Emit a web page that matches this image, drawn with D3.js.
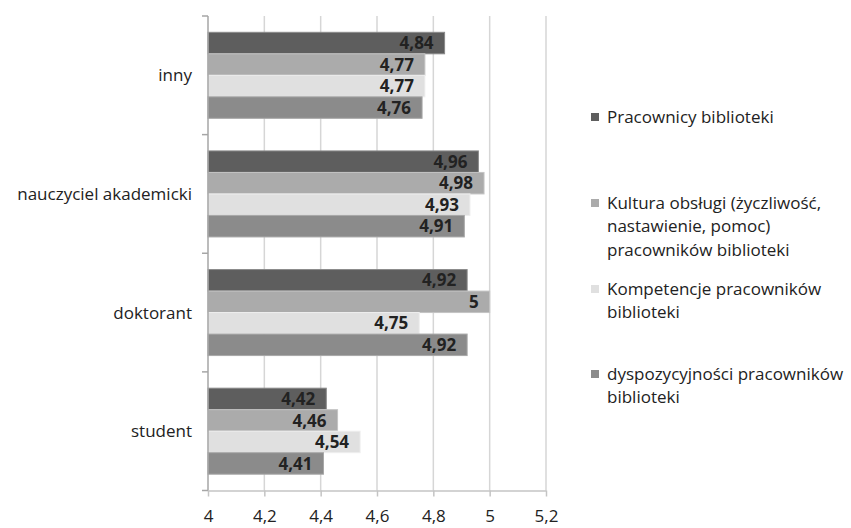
<!DOCTYPE html>
<html>
<head>
<meta charset="utf-8">
<script src="https://cdn.jsdelivr.net/npm/d3@7"></script>
<style>
  html, body { margin: 0; padding: 0; background: #fff; }
  svg { display: block; font-family: "Open Sans", sans-serif; }
</style>
</head>
<body>
<svg id="chart" width="851" height="528"></svg>
<script>
// ---- data ----
const categories = ["inny", "nauczyciel akademicki", "doktorant", "student"];
const seriesNames = [
  "Pracownicy biblioteki",
  "Kultura obsługi (życzliwość, nastawienie, pomoc) pracowników biblioteki",
  "Kompetencje pracowników biblioteki",
  "dyspozycyjności pracowników biblioteki"
];
const legendLines = [
  ["Pracownicy biblioteki"],
  ["Kultura obsługi (życzliwość,", "nastawienie, pomoc)", "pracowników biblioteki"],
  ["Kompetencje pracowników", "biblioteki"],
  ["dyspozycyjności pracowników", "biblioteki"]
];
const pracownicy    = [4.84, 4.96, 4.92, 4.42];
const kultura       = [4.77, 4.98, 5.00, 4.46];
const kompetencje   = [4.77, 4.93, 4.75, 4.54];
const dyspozycyjnosc= [4.76, 4.91, 4.92, 4.41];
const seriesValues = [pracownicy, kultura, kompetencje, dyspozycyjnosc];
const xTicks = [4, 4.2, 4.4, 4.6, 4.8, 5, 5.2];

// ---- styles ----
const colors = ["#5e5e5e", "#ababab", "#e0e0e0", "#8b8b8b"];
const strokes = ["#8a8a8a", "#c4c4c4", "#eeeeee", "#a8a8a8"];

const svg = d3.select("#chart");
const x = d3.scaleLinear().domain([4, 5.2]).range([208, 546]);
const y = d3.scaleBand().domain(categories).range([16, 490.5]).padding(0);
const ys = d3.scaleBand().domain(d3.range(seriesNames.length))
  .range([0, y.bandwidth()]).paddingInner(0).paddingOuter(0.758);

// gridlines
svg.append("g").selectAll("line").data(xTicks.slice(1)).join("line")
  .attr("x1", d => x(d)).attr("x2", d => x(d))
  .attr("y1", 16).attr("y2", 490.5)
  .attr("stroke", "#d6d6d6").attr("stroke-width", 1.5);

// bars
const rows = [];
categories.forEach((c, ci) => seriesValues.forEach((vals, si) => rows.push({c, si, v: vals[ci]})));
svg.append("g").selectAll("rect").data(rows).join("rect")
  .attr("x", x(4))
  .attr("y", d => y(d.c) + ys(d.si))
  .attr("width", d => x(d.v) - x(4))
  .attr("height", ys.bandwidth())
  .attr("fill", d => colors[d.si])
  .attr("stroke", d => strokes[d.si])
  .attr("stroke-width", 1);

// value labels
svg.append("g").selectAll("text").data(rows).join("text")
  .attr("x", d => x(d.v) - 11)
  .attr("y", d => y(d.c) + ys(d.si) + ys.bandwidth() / 2)
  .attr("dy", "0.36em")
  .attr("text-anchor", "end")
  .attr("font-size", 17)
  .attr("font-weight", "bold")
  .attr("fill", "#222")
  .text(d => String(d.v).replace(".", ","));

// x axis
const xAxis = d3.axisBottom(x).tickValues(xTicks)
  .tickFormat(d => String(d).replace(".", ","))
  .tickSizeInner(6).tickSizeOuter(0).tickPadding(13);
const gx = svg.append("g").attr("transform", "translate(0,490.5)").call(xAxis);
gx.select(".domain").attr("stroke", "#c4c4c4").attr("stroke-width", 1.5);
gx.selectAll(".tick line").attr("stroke", "#c4c4c4").attr("stroke-width", 1.5);
gx.selectAll(".tick text").attr("font-size", 17).attr("fill", "#222")
  .attr("font-family", "Open Sans, sans-serif");

// y axis
const gy = svg.append("g");
gy.append("line").attr("x1", x(4)).attr("x2", x(4)).attr("y1", 16).attr("y2", 490.5)
  .attr("stroke", "#a6a6a6").attr("stroke-width", 1.5);
const bounds = categories.map(c => y(c)).concat([y.range()[1]]);
gy.selectAll("line.tk").data(bounds).join("line").attr("class", "tk")
  .attr("x1", x(4) - 6).attr("x2", x(4)).attr("y1", d => d).attr("y2", d => d)
  .attr("stroke", "#a6a6a6").attr("stroke-width", 1.5);
gy.selectAll("text").data(categories).join("text")
  .attr("x", 192)
  .attr("y", d => y(d) + y.bandwidth() / 2)
  .attr("dy", "0.36em")
  .attr("text-anchor", "end")
  .attr("font-size", 17)
  .attr("fill", "#222")
  .text(d => d);

// legend
const legendY = [117, 203, 289, 374];
const lg = svg.append("g");
legendLines.forEach((lines, i) => {
  lg.append("rect").attr("x", 591).attr("y", legendY[i] - 4).attr("width", 8).attr("height", 8)
    .attr("fill", colors[i]);
  lines.forEach((t, j) => {
    lg.append("text").attr("x", 607).attr("y", legendY[i] + j * 23.3)
      .attr("dy", "0.36em").attr("font-size", 17).attr("fill", "#222").text(t);
  });
});
</script>
</body>
</html>
